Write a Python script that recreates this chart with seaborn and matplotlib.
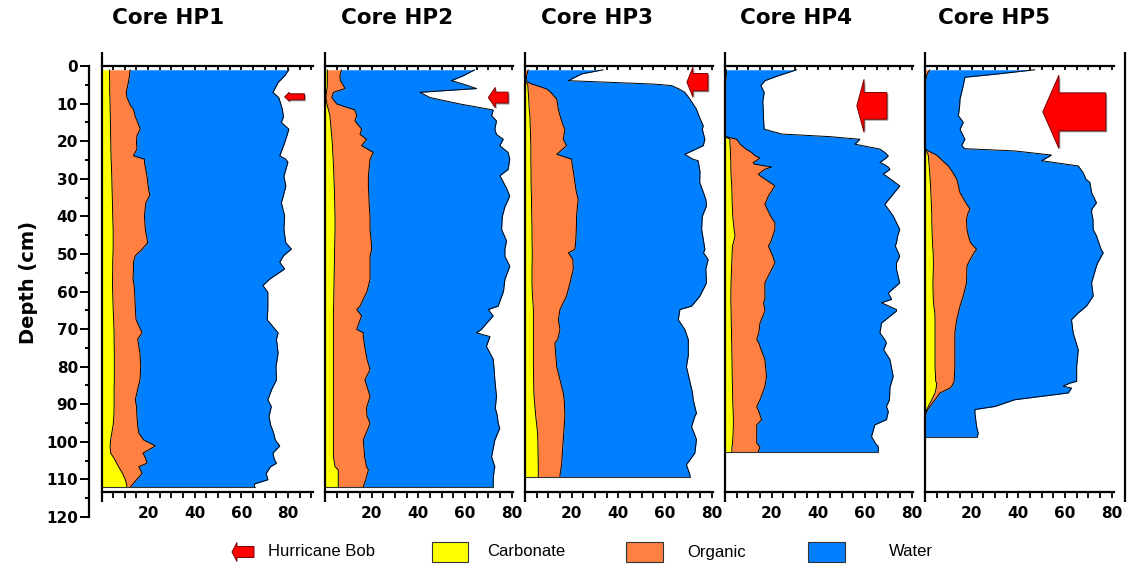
import numpy as np
import matplotlib
matplotlib.use("Agg")
import matplotlib.pyplot as plt
from matplotlib.patches import Polygon, Rectangle
from matplotlib.ticker import MultipleLocator, NullFormatter
import seaborn as sns

# ---------------- data (percent of sample, by depth in cm) ----------------
core_names = ["Core HP1", "Core HP2", "Core HP3", "Core HP4", "Core HP5"]
legend_labels = ["Hurricane Bob", "Carbonate", "Organic", "Water"]

hp1_depth = [1, 2.6, 4.4, 7, 8.4, 10.6, 11.5, 13.5, 15, 16.8, 18.5, 20.4, 22.1, 23.9, 24.8, 25.6,
             29.3, 32, 34.4, 36.4, 39.9, 43.5, 47, 48.7, 50.5, 52.2, 54, 56.7, 58.4, 60.2, 64.6,
             67.5, 71, 72.7, 76.4, 80, 83.5, 86, 88.8, 90.6, 93.2, 95.5, 97.7, 99.5, 101.1, 103,
             104.5, 105.7, 106.6, 108.4, 110.1, 111.2, 112.1]
hp1_carbonate = [3.4, 3.4, 3.5, 3.5, 3.6, 3.7, 3.7, 3.8, 3.8, 3.9, 3.9, 4.0, 4.0, 4.1, 4.1, 4.2,
                 4.4, 4.5, 4.6, 4.7, 4.8, 5.0, 5.0, 5.0, 4.9, 4.8, 4.8, 4.7, 4.7, 4.8, 5.0,
                 5.2, 5.4, 5.4, 5.5, 5.5, 5.5, 5.4, 5.4, 5.4, 5.3, 5.0, 4.4, 3.9, 3.7, 3.9,
                 5.5, 6.5, 7.3, 9.0, 10.2, 10.7, 10.9]
hp1_organic = [8.9, 8.6, 8.0, 7.1, 7.3, 8.8, 10.0, 10.7, 11.7, 12.7, 11.3, 11.0, 11.2, 9.6, 14.3, 14.2,
               15.1, 15.5, 16.1, 14.3, 13.6, 13.8, 14.8, 12.5, 9.6, 8.9, 8.9, 8.8, 9.3, 9.4, 9.5,
               9.6, 12.0, 10.1, 11.0, 11.3, 11.0, 10.1, 9.1, 9.6, 9.9, 10.5, 11.6, 14.2, 19.4, 13.9,
               13.5, 13.0, 8.7, 8.4, 4.8, 2.8, 1.4]
hp1_water = [68.0, 66.5, 64.2, 62.9, 65.1, 64.6, 63.8, 63.5, 61.6, 63.7, 64.3, 63.5, 62.3, 62.7, 60.6, 61.5,
             58.7, 59.0, 57.3, 58.1, 60.1, 59.4, 59.2, 63.9, 63.5, 62.7, 64.8, 58.6, 55.2, 57.1, 56.8,
             56.2, 58.3, 59.5, 59.2, 58.0, 58.5, 57.5, 56.8, 57.8, 56.6, 57.0, 57.8, 56.4, 53.3, 55.7,
             55.0, 55.5, 56.5, 53.2, 56.3, 52.1, 53.3]

hp2_depth = [1, 2.6, 3.9, 4.8, 6.0, 7.0, 8.4, 10.1, 11.7, 13.2, 14.6, 16.8, 18.2, 19.5, 21.2, 23.0,
             24.8, 27.5, 29.2, 32.5, 34.6, 37.5, 40.0, 43.5, 46.5, 48.8, 50.6, 53.3, 56.8, 60.0,
             63.9, 64.8, 66.5, 68.5, 70.1, 71.0, 72.0, 74.6, 78.0, 80.8, 83.5, 87.9, 91.0, 93.2,
             95.0, 96.4, 99.5, 104.0, 106.6, 107.5, 110.0, 112.0]
hp2_carbonate = [1.0, 1.0, 1.0, 1.0, 0.9, 0.6, 0.4, 0.8, 1.5, 2.1, 2.3, 2.6, 2.8, 3.0, 3.2, 3.3,
                 3.5, 3.7, 3.8, 4.0, 4.1, 4.2, 4.3, 4.3, 4.2, 4.1, 4.1, 4.0, 3.9, 3.8,
                 3.7, 3.6, 3.6, 3.6, 3.6, 3.6, 3.6, 3.6, 3.6, 3.6, 3.6, 3.6, 3.6, 3.6,
                 3.6, 3.6, 3.6, 3.6, 4.3, 5.7, 5.7, 5.7]
hp2_organic = [6.1, 5.4, 5.6, 6.5, 7.7, 3.0, 2.5, 4.2, 11.3, 11.5, 10.5, 13.1, 12.2, 14.8, 12.5, 17.4,
               15.8, 15.2, 14.8, 14.6, 14.7, 14.8, 15.0, 15.0, 15.6, 15.9, 15.2, 15.3, 15.4, 14.2,
               11.3, 10.0, 12.1, 10.9, 10.0, 12.8, 12.8, 13.4, 14.4, 15.7, 13.5, 15.7, 14.2, 14.4,
               15.7, 14.9, 12.8, 13.4, 13.5, 12.9, 11.8, 10.7]
hp2_water = [57.1, 52.8, 47.6, 51.7, 56.4, 37.1, 42.1, 52.8, 59.3, 57.8, 60.7, 57.1, 58.5, 58.6, 59.2, 57.8,
             59.9, 59.6, 56.4, 59.2, 60.4, 58.1, 56.7, 56.4, 58.0, 57.1, 57.8, 59.9, 57.8, 58.5,
             59.2, 56.4, 56.4, 54.7, 53.4, 48.5, 54.3, 52.2, 54.1, 53.2, 55.7, 54.2, 55.2, 55.9,
             54.9, 56.4, 56.4, 54.4, 55.0, 53.9, 54.6, 55.7]

hp3_depth = [1, 2.1, 3.9, 4.4, 4.8, 5.2, 6.1, 7.0, 8.8, 11.5, 13.2, 15.9, 16.8, 19.5, 21.2, 23.5,
             24.8, 25.2, 28, 31, 33.5, 35.5, 37.2, 40, 43.5, 46, 48.8, 49.7, 51.5, 54, 57.7,
             61.2, 63.9, 64.8, 67.5, 70.1, 72.8, 73.7, 77, 80, 83.5, 87.0, 88.8, 92.4, 93.2,
             96.0, 97.7, 99.4, 103, 106.1, 108.8, 109.3]
hp3_carbonate = [0, 0, 0, 0.5, 1.0, 1.2, 1.3, 1.4, 1.6, 1.8, 2.1, 2.2, 2.3, 2.4, 2.5, 2.5,
                 2.5, 2.5, 2.6, 2.6, 2.7, 2.8, 2.8, 2.9, 3.0, 3.0, 3.1, 3.1, 3.1, 3.0, 3.0,
                 3.2, 3.5, 3.6, 3.6, 3.6, 3.6, 3.6, 3.6, 3.6, 3.7, 3.8, 4.0, 4.5, 4.6,
                 5.1, 5.4, 5.5, 5.6, 5.7, 5.7, 5.7]
hp3_organic = [1.4, 0.9, 0.4, 1.0, 1.9, 3.8, 8.0, 9.6, 12.0, 12.5, 12.9, 14.2, 14.8, 14.0, 15.3, 11.1,
               17.5, 17.5, 18.1, 18.8, 19.3, 20.0, 19.7, 19.2, 19.0, 18.8, 18.3, 15.5, 17.4, 17.7, 16.3,
               14.6, 12.2, 11.4, 10.7, 11.4, 10.4, 9.2, 9.6, 10.0, 11.3, 12.6, 12.8, 12.6, 12.5,
               11.7, 11.2, 10.9, 10.4, 10.0, 9.3, 9.3]
hp3_water = [32.1, 23.4, 18.2, 37.0, 52.1, 57.8, 56.7, 57.5, 57.1, 59.2, 59.5, 60.0, 58.9, 60.7, 58.6, 54.9,
             52.0, 54.2, 54.3, 53.5, 54.4, 54.7, 55.3, 53.9, 53.7, 54.6, 55.7, 57.9, 58.0, 56.8, 58.5,
             57.2, 55.7, 51.4, 51.4, 53.5, 56.0, 57.2, 56.8, 55.6, 55.5, 55.4, 55.3, 56.4, 55.7,
             54.6, 55.9, 57.1, 56.8, 53.5, 55.7, 55.7]

hp4_depth = [1, 2.6, 3.9, 5.2, 7.0, 9.5, 11.5, 14, 16.8, 18.1, 18.8, 19.5, 20.8, 22.1, 23.0, 23.9,
             24.5, 25.7, 26.1, 26.9, 27.5, 28.8, 29.2, 31.9, 34.6, 36.8, 39.9, 41.7, 43.5, 45.2,
             47.0, 47.9, 50.6, 52.4, 54.1, 57.7, 60.4, 62.1, 63.0, 64.8, 65.2, 68.4, 71.0, 72.8,
             73.7, 75.5, 78.1, 82.6, 85.5, 88.8, 90.6, 92.0, 94.1, 95.5, 98.6, 100.4, 101.3, 102.6]
hp4_carbonate = [0, 0, 0, 0, 0, 0, 0, 0, 0, 0, 0, 2.1, 2.1, 2.3, 2.3, 2.4,
                 2.4, 2.5, 2.5, 2.5, 2.5, 2.6, 2.6, 2.9, 3.0, 3.1, 3.3, 3.6, 3.9, 4.3,
                 3.6, 3.2, 3.0, 2.9, 2.8, 2.6, 2.5, 2.5, 2.5, 2.6, 2.6, 2.7, 2.8, 2.8,
                 2.9, 2.9, 3.0, 3.1, 3.2, 3.3, 3.4, 3.5, 3.6, 3.6, 3.4, 3.2, 3.0, 2.9]
hp4_organic = [0.7, 0.5, 0.3, 0, 0, 0, 0, 0, 0, 0, 0.5, 2.9, 4.4, 6.7, 9.1, 10.6,
               12.6, 9.6, 10.0, 17.5, 14.5, 11.7, 12.4, 18.5, 15.6, 14.0, 16.2, 17.8, 17.5, 16.2,
               15.9, 15.4, 17.5, 18.5, 17.2, 14.5, 14.6, 14.6, 14.0, 14.5, 14.5, 12.3, 11.7, 10.8,
               11.6, 12.6, 14.1, 14.7, 13.8, 11.7, 10.2, 11.0, 12.1, 10.0, 10.2, 10.4, 12.0, 11.4]
hp4_water = [30.0, 22.3, 16.8, 15.4, 16.8, 16.2, 16.4, 16.5, 16.8, 24.3, 44.5, 52.8, 49.2, 57.4, 57.1, 57.0,
             54.0, 54.3, 55.5, 50.0, 53.7, 53.5, 54.0, 53.5, 52.8, 51.4, 52.6, 52.1, 53.5, 53.5,
             54.0, 54.4, 54.4, 52.1, 53.5, 57.8, 52.9, 54.3, 50.6, 56.4, 56.4, 52.1, 51.9, 54.9,
             54.7, 52.5, 53.6, 54.3, 53.7, 55.5, 55.6, 55.5, 53.5, 50.6, 49.2, 50.9, 50.7, 51.4]

hp5_depth = [1, 2.1, 3.0, 5.2, 8.8, 11, 13.2, 15.0, 16.8, 19.5, 21.2, 22.0, 22.6, 23.7, 25.2, 26.6,
             28.4, 30.1, 31.0, 33.7, 36.4, 38.1, 39.0, 40.8, 43.5, 45.2, 47.0, 48.8, 49.7, 52.4,
             53.2, 57.7, 61.2, 63.9, 65.7, 67.5, 71.0, 75.5, 80.0, 83.9, 84.4, 85.2, 85.7, 87.0,
             87.9, 88.8, 90.6, 91.4, 92.4, 95.9, 97.7, 98.6]
hp5_carbonate = [0, 0, 0, 0, 0, 0, 0, 0, 0, 0, 0, 0, 0.5, 1.4, 1.6, 1.8,
                 2.0, 2.2, 2.3, 2.5, 2.7, 2.8, 2.9, 2.9, 3.0, 3.1, 3.2, 3.4, 3.5, 3.6,
                 3.6, 3.4, 3.5, 3.8, 4.2, 4.3, 4.3, 4.3, 4.3, 4.6, 5.0, 4.9, 4.8, 4.3,
                 3.6, 2.9, 1.4, 0.8, 0.3, 0, 0, 0]
hp5_organic = [2.0, 1.0, 0.5, 0, 0, 0, 0, 0, 0, 0, 0, 0, 0.9, 3.6, 5.9, 8.2,
               10.0, 11.4, 11.7, 12.5, 14.8, 16.5, 15.6, 14.9, 15.0, 15.5, 16.3, 18.7, 17.5, 15.0,
               14.4, 14.4, 12.9, 11.2, 10.1, 9.3, 8.5, 8.5, 8.5, 7.9, 7.1, 6.6, 5.9, 2.1,
               1.8, 1.4, 0.7, 0.4, 0.1, 0, 0, 0]
hp5_water = [45.1, 30.4, 16.6, 16.4, 15.0, 14.8, 14.3, 16.4, 15.0, 17.1, 15.7, 17.1, 37.1, 49.2, 42.5, 55.7,
             55.8, 55.4, 56.7, 56.4, 56.0, 52.2, 52.9, 54.2, 54.1, 54.9, 55.0, 53.4, 55.4, 55.4,
             55.5, 53.6, 55.7, 54.2, 51.4, 49.2, 50.7, 52.9, 52.2, 52.5, 49.9, 47.7, 52.1, 55.0,
             44.6, 34.2, 27.9, 20.2, 21.0, 22.1, 22.8, 22.5]

# Hurricane Bob arrow markers: tip position (%), depth (cm), tail (%)
bob_tip = [78.5, 70.0, 69.4, 56.5, 50.5]
bob_depth = [8.2, 8.4, 4.3, 10.6, 12.2]
bob_tail = [87.0, 78.5, 78.4, 69.4, 77.5]
bob_head_len = [2.0, 3.0, 2.6, 3.1, 6.9]
bob_head_half = [1.2, 2.7, 4.0, 7.05, 9.75]
bob_body_half = [0.8, 1.45, 2.3, 3.55, 5.05]

depths = [hp1_depth, hp2_depth, hp3_depth, hp4_depth, hp5_depth]
carbonates = [hp1_carbonate, hp2_carbonate, hp3_carbonate, hp4_carbonate, hp5_carbonate]
organics = [hp1_organic, hp2_organic, hp3_organic, hp4_organic, hp5_organic]
waters = [hp1_water, hp2_water, hp3_water, hp4_water, hp5_water]

# ---------------- style ----------------
sns.set_theme(style="ticks")
plt.rcParams["font.family"] = ["DejaVu Sans"]
for k in ("text.color", "axes.labelcolor", "xtick.color", "ytick.color", "axes.edgecolor"):
    plt.rcParams[k] = "black"

YELLOW = "#FFFF00"
ORANGE = "#FF8040"
BLUE = "#0080FF"
RED = "#FF0000"

W, H = 1138, 565
fig = plt.figure(figsize=(W / 100, H / 100), dpi=100)
fig.patch.set_facecolor("white")


def fx(px):
    return px / W


def fy(py):
    return 1 - py / H


PX_PER_UNIT = 2.333
TOP_PX, BOT_PX = 66, 492
PX_PER_CM = 3.758
Y_BOTTOM = (BOT_PX - TOP_PX) / PX_PER_CM
panel_px = [(101.5, 313), (325, 513), (525, 713), (725, 913), (925, 1114)]
title_cx = [168, 397, 597, 796, 994]
frame_lo = -(502 - BOT_PX) / (BOT_PX - TOP_PX)
frame_hi = 1 + (TOP_PX - 52) / (BOT_PX - TOP_PX)

for i in range(5):
    l, r = panel_px[i]
    ax = fig.add_axes([fx(l), fy(BOT_PX), (r - l) / W, (BOT_PX - TOP_PX) / H])
    ax.set_facecolor("white")
    xmax = (r - l) / PX_PER_UNIT
    d = np.array(depths[i], float)
    c = np.array(carbonates[i], float)
    o = np.array(organics[i], float)
    w = np.array(waters[i], float)
    b1, b2, b3 = c, c + o, c + o + w

    ax.fill_betweenx(d, 0, b1, color=YELLOW, lw=0)
    ax.fill_betweenx(d, b1, b2, color=ORANGE, lw=0)
    ax.fill_betweenx(d, b2, b3, color=BLUE, lw=0)
    for b in (b1, b2, b3):
        sns.lineplot(x=b, y=d, orient="y", sort=False, estimator=None,
                     color="black", lw=0.7, ax=ax, legend=False)
    sns.lineplot(x=[0, b3[-1]], y=[d[-1], d[-1]], orient="y", sort=False,
                 estimator=None, color="#333333", lw=0.8, ax=ax, legend=False)

    # Hurricane Bob arrow
    t, dd, tl = bob_tip[i], bob_depth[i], bob_tail[i]
    hb = t + bob_head_len[i]
    hh, bh = bob_head_half[i], bob_body_half[i]
    pts = [(t, dd), (hb, dd - hh), (hb, dd - bh), (tl, dd - bh),
           (tl, dd + bh), (hb, dd + bh), (hb, dd + hh)]
    shadow = [(x + 0.6, y + 0.4) for x, y in pts]
    ax.add_patch(Polygon(shadow, closed=True, facecolor="#9a9a9a", edgecolor="none", zorder=4))
    ax.add_patch(Polygon(pts, closed=True, facecolor=RED, edgecolor="#7a0000", lw=0.7, zorder=5))

    ax.set_xlim(0, xmax)
    ax.set_ylim(Y_BOTTOM, 0)
    ax.set_xlabel("")
    ax.set_ylabel("")
    for s in ("left", "right", "top"):
        ax.spines[s].set_visible(False)
    ax.spines["bottom"].set_linewidth(1.6)
    ax.set_xticks([20, 40, 60, 80])
    ax.xaxis.set_minor_locator(MultipleLocator(5))
    ax.tick_params(axis="x", which="both", direction="out", length=4, width=1.3,
                   bottom=True, top=False, labelsize=11, pad=6, colors="black")
    ax.tick_params(axis="y", left=False, right=False, labelleft=False)
    for lbl in ax.get_xticklabels():
        lbl.set_fontweight("bold")

    sec = ax.secondary_xaxis("top")
    sec.set_xticks(np.arange(0, xmax + 0.01, 5))
    sec.xaxis.set_major_formatter(NullFormatter())
    sec.tick_params(axis="x", direction="in", length=3, width=1.3, colors="black")
    sec.spines["top"].set_linewidth(1.6)

    # frame lines extending above/below the axes
    ax.plot([0, 0], [frame_lo, frame_hi], transform=ax.transAxes, clip_on=False,
            color="black", lw=1.6, solid_capstyle="butt", zorder=6)
    if i == 4:
        xr = (1125 - l) / (r - l)
        ax.plot([xr, xr], [frame_lo, frame_hi], transform=ax.transAxes, clip_on=False,
                color="black", lw=1.6, solid_capstyle="butt", zorder=6)

    fig.text(fx(title_cx[i]), fy(18), core_names[i], ha="center", va="center",
             fontsize=15.5, fontweight="bold", color="black")

# Depth axis
ay = fig.add_axes([fx(89), fy(517), 0.0005, (517 - 66) / H])
ay.set_facecolor("none")
ay.set_ylim(120, 0)
ay.set_xticks([])
for s in ("right", "top", "bottom"):
    ay.spines[s].set_visible(False)
ay.spines["left"].set_linewidth(1.6)
ay.set_yticks(np.arange(0, 121, 10))
ay.yaxis.set_minor_locator(MultipleLocator(5))
ay.tick_params(axis="y", which="major", direction="out", length=6.5, width=1.4,
               labelsize=11, pad=1.5, colors="black")
ay.tick_params(axis="y", which="minor", direction="out", length=3.2, width=1.4)
for lbl in ay.get_yticklabels():
    lbl.set_fontweight("bold")
fig.text(fx(28), fy(283), "Depth (cm)", rotation=90, ha="center", va="center",
         fontsize=14, fontweight="bold", color="black")

# Legend (drawn in figure pixels)
ly = 552
tip, tail, hh, bh = 232, 254, 9.5, 5.5
hb = tip + 5
arrow_pts = [(tip, ly), (hb, ly - hh), (hb, ly - bh), (tail, ly - bh), (tail, ly + bh),
             (hb, ly + bh), (hb, ly + hh)]
fig.patches.append(Polygon([(fx(x), fy(y)) for x, y in arrow_pts], closed=True,
                           transform=fig.transFigure, facecolor=RED, edgecolor="#7a0000", lw=0.7))
fig.text(fx(268), fy(ly), legend_labels[0], ha="left", va="center", fontsize=12,
         family=["Liberation Sans", "DejaVu Sans"], color="black")
boxes = [(432, 468, YELLOW), (626, 663, ORANGE), (808, 845, BLUE)]
text_x = [487, 687, 889]
for (x0, x1, col), tx, lab in zip(boxes, text_x, legend_labels[1:]):
    fig.patches.append(Rectangle((fx(x0), fy(ly + 10)), (x1 - x0) / W, 20 / H,
                                 transform=fig.transFigure, facecolor=col,
                                 edgecolor="#333333", lw=0.8))
    fig.text(fx(tx), fy(ly), lab, ha="left", va="center", fontsize=12,
             family=["Liberation Sans", "DejaVu Sans"], color="black")

fig.savefig("out.png", dpi=100)
